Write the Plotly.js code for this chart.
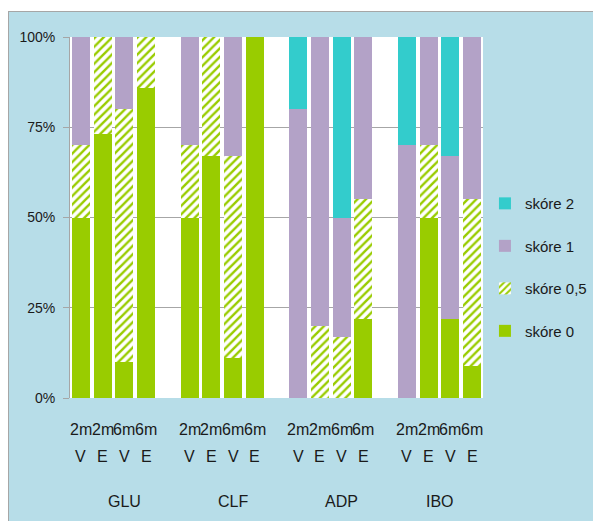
<!DOCTYPE html>
<html>
<head>
<meta charset="utf-8">
<script src="https://cdn.plot.ly/plotly-3.0.1.min.js"></script>
<style>
  html, body { margin: 0; padding: 0; background: #ffffff; width: 593px; height: 521px; overflow: hidden; }
  #frame { position: absolute; left: 8px; top: 11px; width: 585px; height: 510px; box-sizing: border-box;
           border-left: 1px solid #a6a6a6; border-top: 1px solid #a6a6a6; background: #b7dde8; }
  #chart { width: 584px; height: 509px; }
</style>
</head>
<body>
<div id="frame"><div id="chart"></div></div>
<script>
// ---- data ----
const groups = ['GLU', 'CLF', 'ADP', 'IBO'];
const periodLabels = ['2m', '2m', '6m', '6m'];
const cohortLabels = ['V', 'E', 'V', 'E'];
const seriesNames = ['skóre 0', 'skóre 0,5', 'skóre 1', 'skóre 2'];
// order inside each group: 2m V, 2m E, 6m V, 6m E
const score0  = [50, 73, 10, 86,   50, 67, 11, 100,   0,  0,  0, 22,    0, 50, 22,  9];
const score05 = [20, 27, 70, 14,   20, 33, 56,   0,   0, 20, 17, 33,    0, 20,  0, 46];
const score1  = [30,  0, 20,  0,   30,  0, 33,   0,  80, 80, 33, 45,   70, 30, 45, 45];
const score2  = [ 0,  0,  0,  0,    0,  0,  0,   0,  20,  0, 50,  0,   30,  0, 33,  0];
const yTicks = [0, 25, 50, 75, 100];

// ---- category slots: each group has 4 bars followed by one empty slot ----
const perGroup = periodLabels.length;
const slotsPerGroup = perGroup + 1;
const xs = [];
groups.forEach((g, gi) => { for (let i = 0; i < perGroup; i++) xs.push(gi * slotsPerGroup + i); });
const nSlots = groups.length * slotsPerGroup - 1;

const green = '#99cc00', purple = '#b3a2c7', teal = '#33cccc';
const font = 'Liberation Sans, Arial, sans-serif';
const txt = '#1a1a1a';

const traces = [
  {name: seriesNames[0], y: score0, marker: {color: green}, legendrank: 4},
  {name: seriesNames[1], y: score05, marker: {color: 'white', pattern: {shape: '/', fgcolor: green, bgcolor: 'white', size: 6, solidity: 0.4}}, legendrank: 3},
  {name: seriesNames[2], y: score1, marker: {color: purple}, legendrank: 2},
  {name: seriesNames[3], y: score2, marker: {color: teal}, legendrank: 1}
].map((t, k) => Object.assign({type: 'bar', x: xs, width: 0.83, legendgroup: 'g' + k, hoverinfo: 'y+name'}, t));

const annotations = [];
xs.forEach((x, i) => {
  annotations.push({x: x, y: -0.086, xref: 'x', yref: 'paper', text: periodLabels[i % perGroup], showarrow: false,
                    yanchor: 'middle', font: {family: font, size: 16, color: txt}});
  annotations.push({x: x, y: -0.163, xref: 'x', yref: 'paper', text: cohortLabels[i % perGroup], showarrow: false,
                    yanchor: 'middle', font: {family: font, size: 16, color: txt}});
});
groups.forEach((g, gi) => {
  const first = gi * slotsPerGroup;
  const last = Math.min(first + slotsPerGroup - 1, nSlots - 1);
  annotations.push({x: (first + last) / 2, y: -0.288, xref: 'x', yref: 'paper', text: g, showarrow: false,
                    yanchor: 'middle', font: {family: font, size: 16, color: txt}});
});

const layout = {
  width: 584, height: 509,
  margin: {l: 61, r: 110, t: 25, b: 123, pad: 0},
  paper_bgcolor: '#b7dde8', plot_bgcolor: '#ffffff',
  barmode: 'stack',
  font: {family: font, size: 15, color: txt},
  xaxis: {range: [-0.5, nSlots - 0.5], showticklabels: false, showgrid: false, zeroline: false, ticks: '', fixedrange: true},
  yaxis: {range: [0, 100], tickvals: yTicks, ticktext: yTicks.map(v => v + '%'), showgrid: true, gridcolor: '#a6a6a6', gridwidth: 1,
          zeroline: false, showline: true, linecolor: '#a6a6a6', linewidth: 1, ticks: 'outside', ticklen: 6, tickcolor: '#a6a6a6',
          tickfont: {family: font, size: 14, color: txt}, ticklabelstandoff: 5},
  legend: {xref: 'container', yref: 'container', x: 0.815, xanchor: 'left', y: 0.656, yanchor: 'top',
           traceorder: 'grouped', tracegroupgap: 20,
           bgcolor: 'rgba(0,0,0,0)', font: {family: font, size: 15, color: txt}},
  annotations: annotations,
  showlegend: true
};

Plotly.newPlot('chart', traces, layout, {displayModeBar: false, staticPlot: true});
</script>
</body>
</html>
